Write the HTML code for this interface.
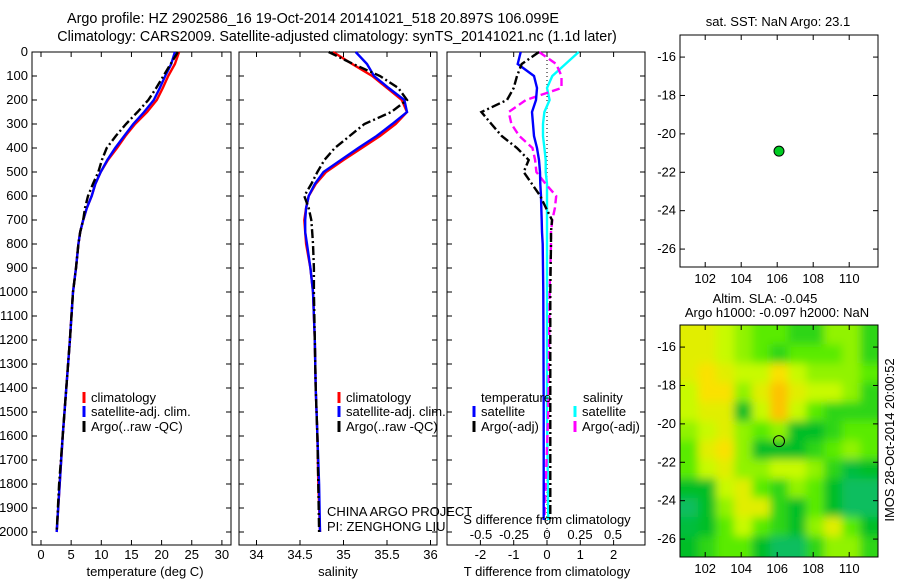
<!DOCTYPE html>
<html><head><meta charset="utf-8"><style>
html,body{margin:0;padding:0;background:#fff;}
svg{display:block;font-family:"Liberation Sans",sans-serif;}
text{font-size:13px;fill:#000;}
</style></head><body>
<svg id="fig" width="900" height="580" viewBox="0 0 900 580">
<defs>
<clipPath id="mapclip"><rect x="680" y="325" width="198" height="232"/></clipPath>
<filter id="blur" x="-10%" y="-10%" width="120%" height="120%"><feGaussianBlur stdDeviation="4.5"/></filter>
</defs>
<text x="313" y="23" text-anchor="middle" style="font-size:14.4px">Argo profile: HZ 2902586_16 19-Oct-2014 20141021_518 20.897S 106.099E</text>
<text x="337" y="41" text-anchor="middle" style="font-size:14.3px">Climatology: CARS2009. Satellite-adjusted climatology: synTS_20141021.nc (1.1d later)</text>
<g id="layer"></g>
<text x="145" y="576" text-anchor="middle">temperature (deg C)</text>
<text x="338" y="576" text-anchor="middle">salinity</text>
<text x="547" y="576" text-anchor="middle">T difference from climatology</text>
<text x="547" y="524" text-anchor="middle">S difference from climatology</text>
<text x="327" y="516">CHINA ARGO PROJECT</text>
<text x="327" y="531">PI: ZENGHONG LIU</text>
<text x="778" y="26" text-anchor="middle">sat. SST: NaN Argo: 23.1</text>
<text x="765" y="303" text-anchor="middle">Altim. SLA: -0.045</text>
<text x="777" y="317" text-anchor="middle">Argo h1000: -0.097 h2000: NaN</text>
<text transform="translate(894,440) rotate(-90)" text-anchor="middle">IMOS 28-Oct-2014 20:00:52</text>
</svg>
<script>
var depthTick = [0,100,200,300,400,500,600,700,800,900,1000,1100,1200,1300,1400,1500,1600,1700,1800,1900,2000];
var tempTicks = [0,5,10,15,20,25,30];
var salTicks = [34,34.5,35,35.5,36];
var salTickLabels = ["34","34.5","35","35.5","36"];
var tdTicks = [-2,-1,0,1,2];
var sdTicks = [-0.5,-0.25,0,0.25,0.5];
var sdTickLabels = ["-0.5","-0.25","0","0.25","0.5"];
var lonTicks = [102,104,106,108,110];
var latTicks = [-16,-18,-20,-22,-24,-26];

var profDepth = [0,50,100,150,200,250,300,350,400,450,500,550,600,650,700,750,800,900,1000,1200,1400,1600,1800,2000];
var tempClim = [22.9,22.2,21.1,20.2,19.2,17.6,15.6,14.0,12.6,11.1,9.9,9.0,8.4,7.6,7.0,6.5,6.2,5.8,5.3,4.8,4.2,3.6,3.1,2.6];
var tempSat  = [22.2,21.6,20.6,19.7,18.7,17.1,15.3,13.8,12.3,11.0,9.9,9.0,8.4,7.6,7.0,6.5,6.2,5.8,5.3,4.8,4.2,3.6,3.1,2.6];
var tempArgo = [22.7,21.5,20.3,19.1,17.8,16.0,14.1,12.4,10.9,10.1,9.5,8.6,7.8,7.3,7.0,6.5,6.2,5.8,5.3,4.8,4.2,3.6,3.0,2.6];
var salClim = [34.88,35.10,35.33,35.50,35.67,35.73,35.60,35.42,35.21,35.00,34.80,34.68,34.60,34.57,34.55,34.56,34.57,34.62,34.65,34.67,34.68,34.70,34.71,34.73];
var salSat  = [35.14,35.27,35.35,35.52,35.70,35.73,35.56,35.38,35.17,34.97,34.77,34.67,34.60,34.57,34.56,34.56,34.58,34.62,34.65,34.67,34.68,34.70,34.72,34.73];
var salArgo = [34.83,35.11,35.42,35.63,35.73,35.55,35.24,35.07,34.90,34.78,34.70,34.63,34.55,34.60,34.63,34.64,34.65,34.66,34.66,34.67,34.68,34.70,34.71,34.72];
var diffDepth = [0,50,100,150,200,250,300,350,400,450,500,550,600,650,700,750,800,1000,1500,1950];
var tDiffSat  = [-0.79,-0.88,-0.39,-0.30,-0.33,-0.45,-0.42,-0.39,-0.30,-0.24,-0.21,-0.20,-0.18,-0.17,-0.16,-0.15,-0.13,-0.11,-0.10,-0.10];
var tDiffArgo = [-0.24,-0.76,-0.90,-1.00,-1.20,-1.97,-1.67,-1.36,-0.90,-0.55,-0.70,-0.45,-0.20,-0.03,0.15,0.12,0.12,0.10,0.10,0.10];
var sDiffSat  = [0.24,0.14,0.04,0.00,0.02,-0.02,-0.03,-0.03,-0.02,-0.01,-0.01,0.00,0.00,0.00,0.00,0.00,0.00,0.00,0.00,0.01];
var sDiffArgo = [-0.06,0.07,0.11,0.11,-0.16,-0.29,-0.27,-0.21,-0.11,-0.09,-0.08,-0.01,0.07,0.06,0.04,0.03,0.03,0.02,0.01,-0.02];
var argoLon = [106.1];
var argoLat = [-20.9];
var slaGrid = [
[3.5,3.5,3,2.5,2,2,1.5,1.5,2.5,2.5,1.5],
[3.5,3.5,3,2.5,2,1.5,2,2,2,2.5,1.5],
[3.5,4,3.5,3,3,4,3,2.5,2.5,2.5,2],
[3,4,4,2.5,3.5,4.5,3.5,3,3,2.5,1.5],
[3,3.5,3.5,1,3,4.5,3,2,1.5,1.5,1.5],
[2.5,3,3.5,2.5,2,2.5,1,1,1.5,2,2],
[2,3.5,4,2.5,1,1,1,1.5,2,2.5,2],
[2,3,3.5,2.5,2.5,3,3,2.5,1.5,0.8,1],
[1,1,3,3.5,2,1.5,2.5,2,1,0.5,0.5],
[0.5,1,2.5,3.5,3.5,1.5,1,2,1,0.5,0.5],
[0.8,1,2,3,2,1.5,1,2.5,3.5,2,1],
[1,1.5,2,2,1,0.5,0.5,1.5,2.5,2.5,1.5]];
var slaLon0 = 100.6;
var slaLat0 = -14.85;

var NS='http://www.w3.org/2000/svg';
var layer=document.getElementById('layer');
function mk(tag,attrs,parent){var e=document.createElementNS(NS,tag);for(var k in attrs)e.setAttribute(k,attrs[k]);(parent||layer).appendChild(e);return e;}
var Y0=52, PXD=0.24, PB=545;
function yD(d){return Y0+d*PXD;}
var P1={x0:32,x1:231}, P2={x0:239,x1:437}, P3={x0:447,x1:645};
function xT(t){return 41+t*6.03;}
function xS(s){return 256.5+(s-34)*87;}
function xTD(t){return 547+t*33.3;}
function xSD(s){return 547+s*132;}

function frame(p,name){
  var r=mk('rect',{x:p.x0,y:Y0,width:p.x1-p.x0,height:PB-Y0,fill:'none',stroke:'#000','stroke-width':1});
  
  
  depthTick.forEach(function(d){
    mk('line',{x1:p.x0,x2:p.x0+5,y1:yD(d),y2:yD(d),stroke:'#000'});
    mk('line',{x1:p.x1,x2:p.x1-5,y1:yD(d),y2:yD(d),stroke:'#000'});
  });
}
function xticks(vals,fx,labels,ly){
  vals.forEach(function(v,i){
    var x=fx(v);
    mk('line',{x1:x,x2:x,y1:PB,y2:PB-5,stroke:'#000'});
    mk('line',{x1:x,x2:x,y1:Y0,y2:Y0+5,stroke:'#000'});
    var t=mk('text',{x:x,y:ly,'text-anchor':'middle'});
    t.textContent=labels[i];
    
    
  });
}
function line(fx,vals,depths,color,dash,name){
  var pts=vals.map(function(v,i){return fx(v).toFixed(1)+','+yD(depths[i]).toFixed(1);}).join(' ');
  var a={points:pts,fill:'none',stroke:color,'stroke-width':2.4};
  if(dash)a['stroke-dasharray']=dash;
  var e=mk('polyline',a);
  
  
}
frame(P1,'temperature-panel');frame(P2,'salinity-panel');frame(P3,'difference-panel');
depthTick.forEach(function(d){
  var t=mk('text',{x:28,y:yD(d)+4,'text-anchor':'end'});
  t.textContent=String(d);
  
  
});
xticks(tempTicks,xT,tempTicks.map(String),559);
xticks(salTicks,xS,salTickLabels,559);
xticks(tdTicks,xTD,tdTicks.map(String),559);
sdTicks.forEach(function(v,i){
  var t=mk('text',{x:xSD(v),y:539,'text-anchor':'middle'});
  t.textContent=sdTickLabels[i];
  
  
});
mk('line',{x1:xTD(0),x2:xTD(0),y1:Y0,y2:PB,stroke:'#000','stroke-dasharray':'1,3'});

var DD='9,3,2,3';
line(xT,tempClim,profDepth,'#ff0000',null,'temp-climatology-line');
line(xT,tempSat,profDepth,'#0000ff',null,'temp-satellite-line');
line(xT,tempArgo,profDepth,'#000',DD,'temp-argo-line');
line(xS,salClim,profDepth,'#ff0000',null,'sal-climatology-line');
line(xS,salSat,profDepth,'#0000ff',null,'sal-satellite-line');
line(xS,salArgo,profDepth,'#000',DD,'sal-argo-line');
line(xSD,sDiffSat,diffDepth,'#00ffff',null,'s-diff-satellite-line');
line(xSD,sDiffArgo,diffDepth,'#ff00ff','8,4','s-diff-argo-line');
line(xTD,tDiffSat,diffDepth,'#0000ff',null,'t-diff-satellite-line');
line(xTD,tDiffArgo,diffDepth,'#000',DD,'t-diff-argo-line');

function legend(x,y,color,label,name){
  mk('line',{x1:x,x2:x,y1:y-10,y2:y+1,stroke:color,'stroke-width':3});
  var t=mk('text',{x:x+7,y:y});
  t.textContent=label;
  
  
}
legend(84,402,'#ff0000','climatology','legend-climatology');
legend(84,416,'#0000ff','satellite-adj. clim.','legend-satellite');
legend(84,431,'#000','Argo(..raw -QC)','legend-argo');
legend(339,402,'#ff0000','climatology','legend-climatology-2');
legend(339,416,'#0000ff','satellite-adj. clim.','legend-satellite-2');
legend(339,431,'#000','Argo(..raw -QC)','legend-argo-2');
var th=mk('text',{x:481,y:402});
th.textContent='temperature';


var sh=mk('text',{x:583,y:402});
sh.textContent='salinity';


legend(474,416,'#0000ff','satellite','legend-t-satellite');
legend(474,431,'#000','Argo(-adj)','legend-t-argo');
legend(575,416,'#00ffff','satellite','legend-s-satellite');
legend(575,431,'#ff00ff','Argo(-adj)','legend-s-argo');

// maps
var MX0=680, MX1=878, MH=232;
function xL(l){return 680+(l-100.6)*18;}
var stops=[[20,190,150],[0,190,40],[90,235,0],[200,250,0],[250,225,0],[255,165,0]];
function col(v){v=Math.max(0,Math.min(5,v));var i=Math.min(4,Math.floor(v));var f=v-i;
  var a=stops[i],b=stops[i+1];return 'rgb('+a.map(function(c,k){return Math.round(c+(b[k]-c)*f);}).join(',')+')';}
var g=mk('g',{'clip-path':'url(#mapclip)'});


var gb=mk('g',{filter:'url(#blur)'},g);
function ylB(l){return 325+(-14.85-l)*19.2;}
slaGrid.forEach(function(row,r){row.forEach(function(v,c){
  var lon=slaLon0+c, lat=slaLat0-r;
  var x=xL(lon)-(c===0?20:0), y=ylB(lat)-(r===0?20:0);
  var w=18+(c===0?20:0)+(c===row.length-1?20:0), h=19.2+(r===0?20:0)+(r===slaGrid.length-1?20:0);
  var e=mk('rect',{x:x,y:y,width:w+0.5,height:h+0.5,fill:col(v)},gb);
  
  
});});

function mapFrame(top,name){
  function yl(l){return top+(-14.85-l)*19.2;}
  latTicks.forEach(function(l){
    mk('line',{x1:MX0,x2:MX0+5,y1:yl(l),y2:yl(l),stroke:'#000'});
    mk('line',{x1:MX1,x2:MX1-5,y1:yl(l),y2:yl(l),stroke:'#000'});
    var t=mk('text',{x:676,y:yl(l)+4,'text-anchor':'end'});
    t.textContent=String(l);
    
    
  });
  lonTicks.forEach(function(l){
    mk('line',{x1:xL(l),x2:xL(l),y1:top,y2:top+5,stroke:'#000'});
    mk('line',{x1:xL(l),x2:xL(l),y1:top+MH,y2:top+MH-5,stroke:'#000'});
    var t=mk('text',{x:xL(l),y:top+MH+16,'text-anchor':'middle'});
    t.textContent=String(l);
    
    
  });
  var r=mk('rect',{x:MX0,y:top,width:MX1-MX0,height:MH,fill:'none',stroke:'#000'});
  
  
  return yl;
}
var ylA=mapFrame(35,'sst-map-frame');
var ylB2=mapFrame(325,'sla-map-frame');
var m1=mk('circle',{cx:xL(argoLon[0]),cy:ylA(argoLat[0]),r:5,fill:'#00cc22',stroke:'#000','stroke-width':1});


var m2=mk('circle',{cx:xL(argoLon[0]),cy:ylB2(argoLat[0]),r:5.5,fill:'none',stroke:'#000','stroke-width':1});


</script>
</body></html>
